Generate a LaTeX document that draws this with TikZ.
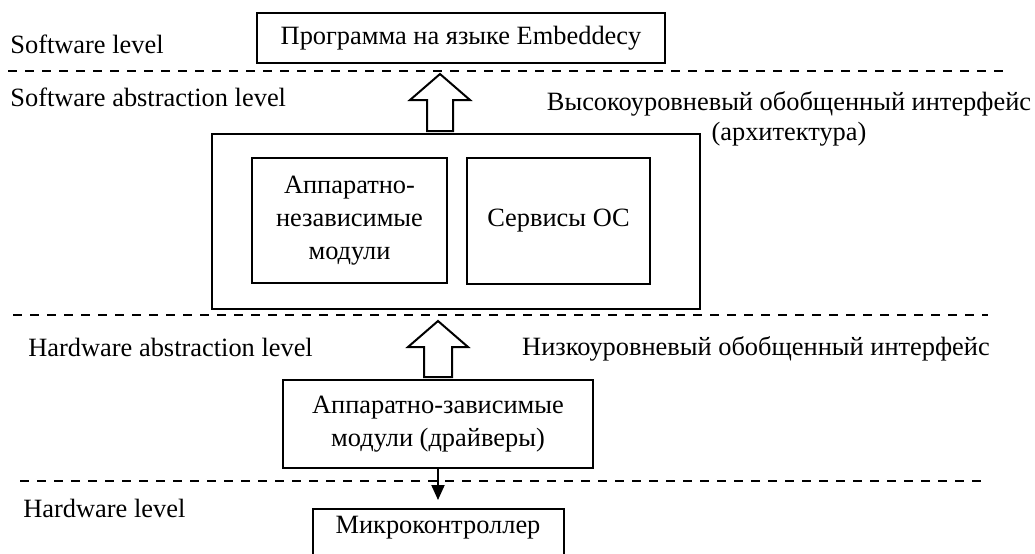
\documentclass[tikz,border=0pt]{standalone}
\usepackage{fontspec}
\setmainfont{Liberation Serif}
\usepackage{tikz}
\usetikzlibrary{positioning}
\usetikzlibrary{arrows.meta}
\usetikzlibrary{calc}

\newcommand{\diagfont}{\fontsize{13.2pt}{16.5pt}\selectfont}

\begin{document}
\begin{tikzpicture}[
            x = 0.5pt,
            y = -0.5pt,
            box/.style = {
                draw,
                line width = 1pt,
                font = \diagfont,
                align = center,
                minimum width = #1,
                inner sep = 0pt,
                outer sep = 0pt
            },
            box/.default = 100pt,
            level/.style = {
                anchor = base west,
                font = \diagfont,
                inner sep = 0pt
            },
            iface/.style = {
                anchor = base,
                align = center,
                font = \fontsize{13.2pt}{15pt}\selectfont,
                inner sep = 0pt
            },
            sep/.style = {line width = 0.9pt, dash pattern = on 4.5pt off 4pt},
            hollow/.style = {draw, line width = 1pt, fill = white}
            ]
            \useasboundingbox (0,0) rectangle (1035,553);

            \node[box=204pt, minimum height=25pt] (prog) at (461,38) {Программа на языке Embeddecy};
            \node[box=244pt, minimum height=87.5pt] (abs) at (456,221.5) {};
            \node[box=97.5pt, minimum height=62.5pt] (indep) at (349.5,220.5) {Аппаратно-\\независимые\\модули};
            \node[box=91.5pt, minimum height=63pt, right=10pt of indep] (os) {Сервисы ОС};
            \node[box=155pt, minimum height=44pt] (drv) at (438,424) {Аппаратно-зависимые\\модули (драйверы)};
            \node[box=125.5pt, inner ysep=3pt, text height=9pt, text depth=30pt, below=20.5pt of drv] (mcu) {Микроконтроллер};

            \node[level] (swl) at (10,53) {Software level};
            \node[level] (swal) at (10,106) {Software abstraction level};
            \node[level] (hwal) at (28,356) {Hardware abstraction level};
            \node[level] (hwl) at (23,517) {Hardware level};

            \node[iface] (high) at (789,140) {Высокоуровневый обобщенный интерфейс\\(архитектура)};
            \node[iface] (low) at (756,355) {Низкоуровневый обобщенный интерфейс};

            \draw[sep] (8,71) -- (1008,71);
            \draw[sep] (13,315) -- (988,315);
            \draw[sep] (20,481) -- (988,481);

            \coordinate (hi) at (440,131);
            \coordinate (lo) at (438,377);
            \draw[hollow] ($(hi)+(-13,0)$) -- ++(0,-31) -- ++(-17,0) -- ($(hi)+(0,-57)$) -- ++(30,26) -- ++(-17,0) -- ++(0,31) -- cycle;
            \draw[hollow] ($(lo)+(-14,0)$) -- ++(0,-30) -- ++(-16,0) -- ($(lo)+(0,-56)$) -- ++(30,26) -- ++(-16,0) -- ++(0,30) -- cycle;
            \draw[line width=1pt, -{Triangle[length=7.5pt, width=6.5pt]}, shorten >=4.5pt] (drv.south) -- (drv.south |- mcu.north);
        \end{tikzpicture}
\end{document}
